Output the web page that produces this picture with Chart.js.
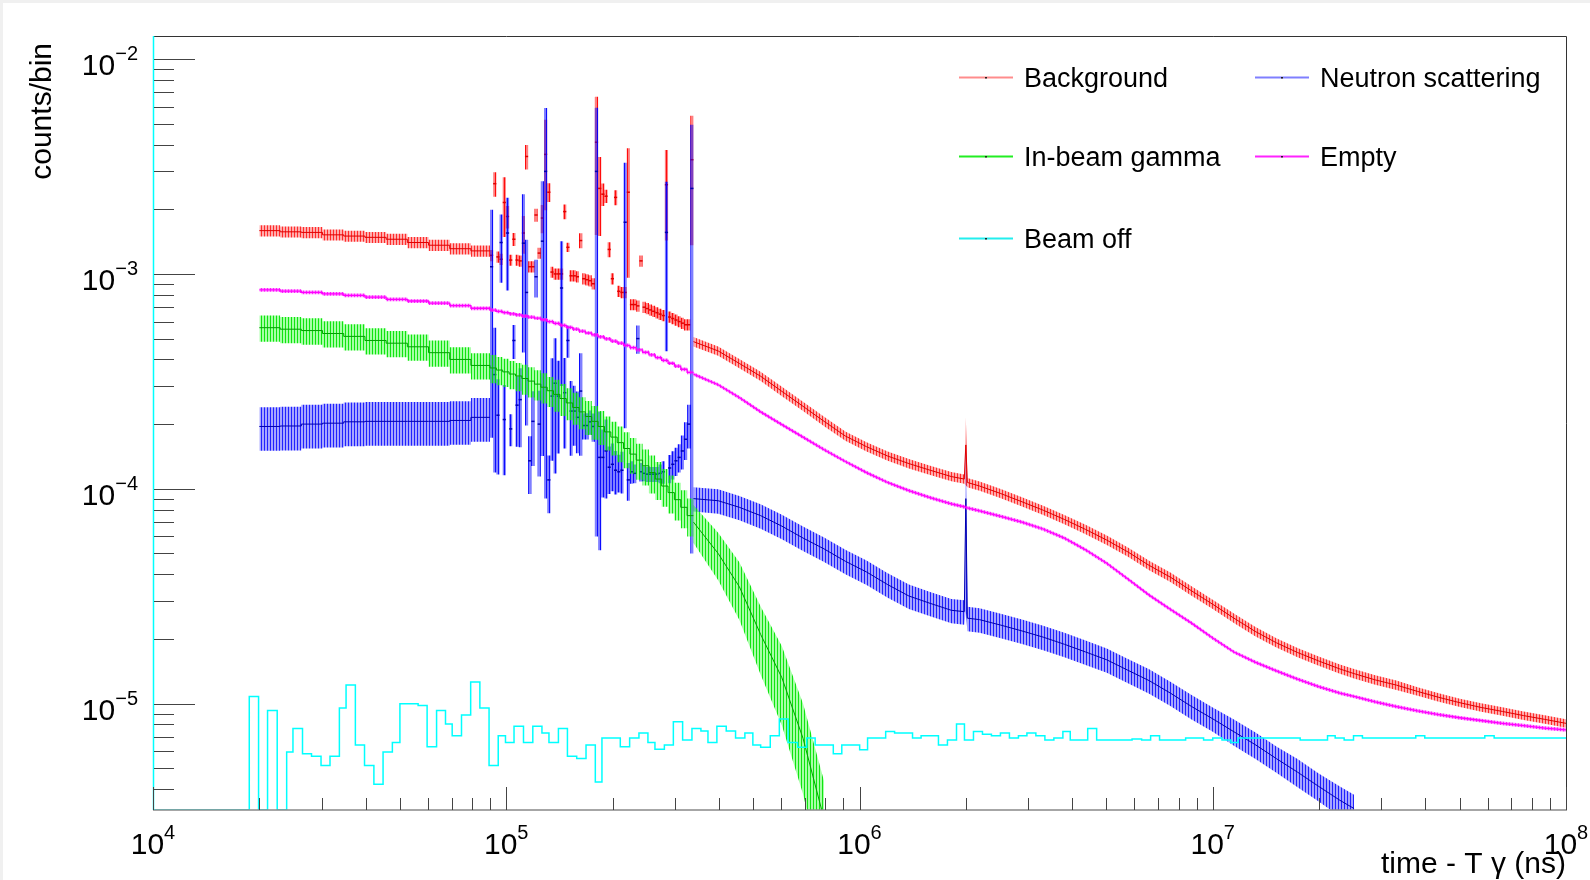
<!DOCTYPE html>
<html>
<head>
<meta charset="utf-8">
<title>counts/bin vs time - T&gamma;</title>
<script src="https://cdn.jsdelivr.net/npm/chart.js@4.4.1/dist/chart.umd.min.js"></script>
<style>
  html, body { margin: 0; padding: 0; background: #fff; }
  canvas { display: block; }
</style>
</head>
<body>
<canvas id="tofChart" width="1590" height="880"></canvas>
<script>
// ---- data (time in ns, content in counts/bin) ----

// bin edges of the early part: 11 coarse bins up to 9e4, then 32 bins up to 3.4e5
const earlyEdges = [2.0e4, 2.291e4, 2.63e4, 3.02e4, 3.467e4, 3.981e4, 4.571e4, 5.248e4, 6.026e4, 6.918e4, 7.943e4, 8.995e4,
  9.376e4, 9.772e4, 1.019e5, 1.062e5, 1.107e5, 1.153e5, 1.202e5, 1.253e5, 1.306e5, 1.361e5,
  1.419e5, 1.479e5, 1.542e5, 1.607e5, 1.675e5, 1.746e5, 1.82e5, 1.897e5, 1.977e5, 2.061e5,
  2.148e5, 2.239e5, 2.333e5, 2.432e5, 2.535e5, 2.642e5, 2.754e5, 2.871e5, 2.992e5, 3.119e5, 3.251e5, 3.388e5];
const coarseBins = 11;

// fine bin edges of the noisy 9e4 - 3.4e5 window (Background and Neutron scattering)
const noisyEdges = [8.995e4, 9.183e4, 9.376e4, 9.572e4, 9.772e4, 9.977e4, 1.019e5, 1.04e5, 1.062e5, 1.084e5,
  1.107e5, 1.13e5, 1.153e5, 1.178e5, 1.202e5, 1.227e5, 1.253e5, 1.279e5, 1.306e5, 1.334e5,
  1.361e5, 1.39e5, 1.419e5, 1.449e5, 1.479e5, 1.51e5, 1.542e5, 1.574e5, 1.607e5, 1.641e5,
  1.675e5, 1.71e5, 1.746e5, 1.782e5, 1.82e5, 1.858e5, 1.897e5, 1.936e5, 1.977e5, 2.018e5,
  2.061e5, 2.104e5, 2.148e5, 2.193e5, 2.239e5, 2.286e5, 2.333e5, 2.382e5, 2.432e5, 2.483e5,
  2.535e5, 2.588e5, 2.642e5, 2.698e5, 2.754e5, 2.812e5, 2.871e5, 2.931e5, 2.992e5, 3.055e5,
  3.119e5, 3.184e5, 3.251e5, 3.319e5, 3.388e5];

// sample times of the smooth late part
const lateTimes = [3.388e5, 3.98e5, 4.57e5, 5.25e5, 6.03e5, 6.92e5, 7.94e5, 9.12e5, 1.047e6, 1.202e6,
  1.38e6, 1.585e6, 1.82e6, 1.98e6, 2.0e6, 2.02e6, 2.188e6, 2.512e6, 2.884e6, 3.311e6,
  3.802e6, 4.365e6, 5.012e6, 5.754e6, 6.607e6, 7.586e6, 8.71e6, 1.0e7, 1.148e7, 1.318e7,
  1.514e7, 1.738e7, 1.995e7, 2.291e7, 2.512e7, 2.884e7, 3.311e7, 3.802e7, 4.365e7, 5.012e7,
  5.754e7, 6.607e7, 7.586e7, 8.71e7, 1.0e8];

// Background
const bkgCoarse = [1.59e-3, 1.57e-3, 1.56e-3, 1.52e-3, 1.5e-3, 1.48e-3, 1.45e-3, 1.4e-3, 1.36e-3, 1.31e-3, 1.28e-3];
const bkgCoarseErr = [0.06, 0.06, 0.06, 0.06, 0.06, 0.06, 0.06, 0.06, 0.06, 0.06, 0.06];
const bkgNoisy = [1.22e-3, 2.63e-3, 1.2e-3, 1.17e-3, 2.15e-3, 1.85e-3, 1.16e-3, 1.45e-3, 1.16e-3, 1.15e-3,
  1.55e-3, 3.52e-3, 1.08e-3, 1.08e-3, 1.88e-3, 1.25e-3, 1.82e-3, 3.6e-3, 2.4e-3, 1.02e-3,
  1.0e-3, 1.0e-3, 1.0e-3, 1.95e-3, 1.33e-3, 0.98e-3, 0.98e-3, 0.97e-3, 1.43e-3, 0.95e-3,
  0.94e-3, 0.93e-3, 0.9e-3, 4.1e-3, 2.5e-3, 2.35e-3, 2.3e-3, 1.3e-3, 0.95e-3, 2.27e-3,
  0.83e-3, 0.82e-3, 0.82e-3, 2.4e-3, 0.72e-3, 0.72e-3, 0.71e-3, 1.15e-3, 0.7e-3, 0.69e-3,
  0.68e-3, 0.67e-3, 0.66e-3, 0.65e-3, 0.64e-3, 2.6e-3, 0.63e-3, 0.62e-3, 0.61e-3, 0.6e-3,
  0.59e-3, 0.58e-3, 0.58e-3, 3.4e-3];
const bkgNoisyErr = [0.06, 0.13, 0.06, 0.06, 0.31, 0.12, 0.06, 0.07, 0.06, 0.06,
  0.2, 0.13, 0.06, 0.06, 0.07, 0.06, 0.15, 0.45, 0.1, 0.06,
  0.06, 0.06, 0.06, 0.08, 0.05, 0.06, 0.06, 0.06, 0.08, 0.06,
  0.06, 0.06, 0.06, 0.63, 0.4, 0.12, 0.07, 0.08, 0.06, 0.08,
  0.06, 0.06, 0.06, 0.6, 0.06, 0.06, 0.06, 0.06, 0.06, 0.06,
  0.06, 0.06, 0.06, 0.06, 0.06, 0.45, 0.06, 0.06, 0.06, 0.06,
  0.06, 0.06, 0.06, 0.6];
const bkgLate = [4.84e-4, 4.38e-4, 3.83e-4, 3.34e-4, 2.84e-4, 2.42e-4, 2.06e-4, 1.76e-4, 1.57e-4, 1.42e-4,
  1.31e-4, 1.22e-4, 1.14e-4, 1.11e-4, 1.6e-4, 1.07e-4, 1.03e-4, 9.5e-5, 8.7e-5, 7.95e-5,
  7.2e-5, 6.47e-5, 5.77e-5, 5.08e-5, 4.4e-5, 3.88e-5, 3.35e-5, 2.9e-5, 2.5e-5, 2.17e-5,
  1.92e-5, 1.73e-5, 1.58e-5, 1.45e-5, 1.38e-5, 1.29e-5, 1.22e-5, 1.14e-5, 1.07e-5, 1.01e-5,
  9.6e-6, 9.2e-6, 8.8e-6, 8.45e-6, 8.1e-6];
const bkgLateErr = [0.05, 0.05, 0.05, 0.05, 0.05, 0.05, 0.05, 0.05, 0.05, 0.05,
  0.05, 0.05, 0.05, 0.05, 0.35, 0.05, 0.05, 0.05, 0.05, 0.05,
  0.05, 0.05, 0.05, 0.05, 0.05, 0.05, 0.05, 0.05, 0.05, 0.05,
  0.05, 0.05, 0.05, 0.05, 0.05, 0.05, 0.05, 0.045, 0.045, 0.045,
  0.045, 0.045, 0.045, 0.045, 0.045];

// Neutron scattering
const neutronCoarse = [1.95e-4, 1.96e-4, 2.0e-4, 2.02e-4, 2.05e-4, 2.06e-4, 2.06e-4, 2.06e-4, 2.06e-4, 2.08e-4, 2.15e-4];
const neutronCoarseErr = [0.23, 0.23, 0.23, 0.23, 0.23, 0.23, 0.23, 0.23, 0.23, 0.23, 0.23];
const neutronNoisy = [1.08e-3, 3.4e-4, 2.2e-4, 1.4e-3, 2.1e-4, 1.55e-3, 1.9e-4, 4.9e-4, 2.45e-4, 2.6e-4,
  1.39e-3, 8.2e-4, 1.35e-4, 2.06e-4, 9.7e-4, 2.0e-4, 1.42e-3, 3.0e-3, 1.1e-4, 2.7e-4,
  3.1e-4, 2.7e-4, 8.6e-4, 2.8e-4, 4.9e-4, 2.3e-4, 2.3e-4, 2.15e-4, 2.85e-4, 1.97e-4,
  1.97e-4, 2.05e-4, 1.95e-4, 3.0e-3, 1.4e-4, 1.4e-4, 1.5e-4, 1.26e-4, 1.3e-4, 1.22e-4,
  1.2e-4, 1.22e-4, 1.74e-3, 1.1e-4, 1.2e-4, 1.18e-4, 5.0e-4, 1.2e-4, 1.18e-4, 1.17e-4,
  1.17e-4, 1.17e-4, 1.17e-4, 1.18e-4, 1.2e-4, 1.56e-3, 1.25e-4, 1.3e-4, 1.35e-4, 1.4e-4,
  1.5e-4, 1.7e-4, 2.0e-4, 2.5e-3];
const neutronNoisyErr = [0.84, 0.65, 0.47, 0.35, 0.45, 0.46, 0.17, 0.18, 0.36, 0.4,
  0.69, 0.76, 0.3, 0.38, 0.2, 0.43, 0.9, 0.97, 0.3, 0.5,
  0.62, 0.46, 0.65, 0.45, 0.17, 0.38, 0.31, 0.32, 0.5, 0.14,
  0.14, 0.13, 0.15, 0.98, 0.63, 0.35, 0.4, 0.25, 0.25, 0.23,
  0.2, 0.22, 0.89, 0.2, 0.12, 0.1, 0.15, 0.1, 0.08, 0.08,
  0.08, 0.08, 0.08, 0.1, 0.12, 0.72, 0.15, 0.15, 0.15, 0.15,
  0.18, 0.2, 0.23, 0.98];
const neutronLate = [9.0e-5, 8.8e-5, 8.2e-5, 7.5e-5, 6.7e-5, 5.9e-5, 5.25e-5, 4.6e-5, 4.1e-5, 3.58e-5,
  3.17e-5, 2.93e-5, 2.72e-5, 2.68e-5, 9.0e-5, 2.5e-5, 2.46e-5, 2.32e-5, 2.18e-5, 2.04e-5,
  1.89e-5, 1.74e-5, 1.6e-5, 1.43e-5, 1.28e-5, 1.12e-5, 9.7e-6, 8.5e-6, 7.4e-6, 6.45e-6,
  5.55e-6, 4.8e-6, 4.12e-6, 3.55e-6, 3.25e-6];
const neutronLateErr = [0.13, 0.13, 0.13, 0.13, 0.13, 0.13, 0.13, 0.13, 0.13, 0.13,
  0.13, 0.13, 0.13, 0.13, 0.7, 0.13, 0.13, 0.13, 0.13, 0.13,
  0.13, 0.13, 0.13, 0.13, 0.13, 0.13, 0.13, 0.13, 0.14, 0.14,
  0.14, 0.15, 0.15, 0.16, 0.16];

// In-beam gamma
const gammaEarly = [5.62e-4, 5.53e-4, 5.45e-4, 5.28e-4, 5.12e-4, 4.9e-4, 4.76e-4, 4.58e-4, 4.3e-4, 4.0e-4, 3.75e-4,
  3.65e-4, 3.57e-4, 3.5e-4, 3.42e-4, 3.35e-4, 3.26e-4, 3.17e-4, 3.07e-4, 2.97e-4, 2.86e-4, 2.75e-4,
  2.63e-4, 2.51e-4, 2.39e-4, 2.28e-4, 2.17e-4, 2.06e-4, 1.95e-4, 1.84e-4, 1.74e-4, 1.64e-4,
  1.54e-4, 1.45e-4, 1.36e-4, 1.28e-4, 1.19e-4, 1.11e-4, 1.03e-4, 0.96e-4, 0.89e-4, 0.82e-4, 0.75e-4];
const gammaEarlyErr = [0.14, 0.14, 0.14, 0.14, 0.14, 0.14, 0.14, 0.14, 0.14, 0.14, 0.14,
  0.15, 0.15, 0.15, 0.15, 0.15, 0.16, 0.16, 0.16, 0.16, 0.16, 0.17,
  0.17, 0.17, 0.17, 0.17, 0.18, 0.18, 0.18, 0.18, 0.18, 0.19,
  0.19, 0.19, 0.19, 0.19, 0.2, 0.2, 0.2, 0.2, 0.2, 0.2, 0.2];
const gammaLate = [7.0e-5, 5.0e-5, 3.5e-5, 2.1e-5, 1.32e-5, 6.9e-6, 2.9e-6];
const gammaLateErr = [0.2, 0.25, 0.3, 0.35, 0.4, 0.45, 0.5];

// Empty
const emptyEarly = [8.42e-4, 8.32e-4, 8.2e-4, 8.08e-4, 7.95e-4, 7.8e-4, 7.62e-4, 7.48e-4, 7.32e-4, 7.12e-4, 6.92e-4,
  6.78e-4, 6.7e-4, 6.6e-4, 6.52e-4, 6.45e-4, 6.37e-4, 6.3e-4, 6.22e-4, 6.12e-4, 6.0e-4, 5.88e-4,
  5.76e-4, 5.64e-4, 5.53e-4, 5.42e-4, 5.31e-4, 5.2e-4, 5.09e-4, 4.98e-4, 4.87e-4, 4.76e-4,
  4.65e-4, 4.54e-4, 4.43e-4, 4.32e-4, 4.2e-4, 4.08e-4, 3.96e-4, 3.84e-4, 3.72e-4, 3.6e-4, 3.48e-4];
const emptyLate = [3.42e-4, 3.05e-4, 2.66e-4, 2.28e-4, 1.99e-4, 1.74e-4, 1.52e-4, 1.34e-4, 1.19e-4, 1.07e-4,
  9.8e-5, 9.1e-5, 8.5e-5, 8.25e-5, 8.2e-5, 8.15e-5, 7.9e-5, 7.45e-5, 7.0e-5, 6.5e-5,
  5.9e-5, 5.2e-5, 4.5e-5, 3.8e-5, 3.2e-5, 2.75e-5, 2.37e-5, 2.02e-5, 1.74e-5, 1.56e-5,
  1.42e-5, 1.3e-5, 1.2e-5, 1.12e-5, 1.08e-5, 1.02e-5, 9.7e-6, 9.25e-6, 8.9e-6, 8.6e-6,
  8.35e-6, 8.1e-6, 7.9e-6, 7.7e-6, 7.55e-6];
const emptyRelErr = 0.02;

// Beam off (plain histogram, 0 = empty bin)
const beamOffEdges = [1e4, 1.873e4, 1.99e4, 2.11e4, 2.247e4, 2.39e4, 2.49e4, 2.65e4, 2.81e4, 2.99e4,
  3.17e4, 3.37e4, 3.52e4, 3.74e4, 3.97e4, 4.22e4, 4.48e4, 4.76e4, 5.0e4, 5.63e4,
  5.97e4, 6.35e4, 6.73e4, 7.03e4, 7.47e4, 7.93e4, 8.42e4, 8.94e4, 9.49e4, 9.95e4,
  1.052e5, 1.119e5, 1.189e5, 1.262e5, 1.321e5, 1.405e5, 1.49e5, 1.583e5, 1.682e5, 1.787e5,
  1.866e5, 2.103e5, 2.235e5, 2.375e5, 2.518e5, 2.636e5, 2.803e5, 2.972e5, 3.157e5, 3.355e5,
  3.557e5, 3.724e5, 3.947e5, 4.195e5, 4.458e5, 4.737e5, 4.99e5, 5.25e5, 5.59e5, 5.93e5,
  6.28e5, 6.68e5, 7.09e5, 7.49e5, 8.43e5, 8.91e5, 1.001e6, 1.054e6, 1.186e6, 1.257e6,
  1.413e6, 1.494e6, 1.673e6, 1.774e6, 1.882e6, 1.982e6, 2.102e6, 2.229e6, 2.363e6, 2.506e6,
  2.657e6, 2.818e6, 2.978e6, 3.157e6, 3.348e6, 3.55e6, 3.765e6, 3.95e6, 4.426e6, 4.692e6,
  5.91e6, 6.29e6, 6.67e6, 7.07e6, 8.38e6, 9.42e6, 1.0e7, 1.062e7, 1.126e7, 1.18e7,
  1.768e7, 2.113e7, 2.221e7, 2.355e7, 2.503e7, 2.653e7, 3.756e7, 3.983e7, 5.89e7, 6.26e7, 1.0e8];
const beamOffCounts = [0, 1.08e-5, 0, 9.3e-6, 0, 5.96e-6, 7.66e-6, 5.84e-6, 5.69e-6, 5.15e-6,
  5.69e-6, 9.54e-6, 1.22e-5, 6.43e-6, 5.15e-6, 4.22e-6, 5.96e-6, 6.6e-6, 1.0e-5, 9.8e-6,
  6.3e-6, 9.3e-6, 8.05e-6, 7.1e-6, 8.85e-6, 1.26e-5, 9.54e-6, 5.15e-6, 7.1e-6, 6.6e-6,
  7.85e-6, 6.6e-6, 7.85e-6, 7.31e-6, 6.6e-6, 7.66e-6, 5.69e-6, 5.55e-6, 6.43e-6, 4.32e-6,
  6.92e-6, 6.3e-6, 6.92e-6, 7.31e-6, 6.6e-6, 6.14e-6, 6.43e-6, 8.24e-6, 6.77e-6, 7.66e-6,
  7.46e-6, 6.6e-6, 7.85e-6, 7.46e-6, 6.92e-6, 7.31e-6, 6.43e-6, 6.27e-6, 7.1e-6, 8.49e-6,
  6.6e-6, 6.27e-6, 6.92e-6, 6.43e-6, 5.85e-6, 6.43e-6, 6.11e-6, 6.92e-6, 7.43e-6, 7.31e-6,
  6.92e-6, 7.1e-6, 6.43e-6, 6.77e-6, 8.05e-6, 6.77e-6, 7.43e-6, 7.2e-6, 7.1e-6, 7.31e-6,
  6.92e-6, 7.1e-6, 7.31e-6, 7.1e-6, 6.77e-6, 6.92e-6, 7.43e-6, 6.77e-6, 7.66e-6, 6.77e-6,
  6.85e-6, 6.77e-6, 7.1e-6, 6.77e-6, 6.92e-6, 6.77e-6, 6.92e-6, 6.77e-6, 6.6e-6, 6.92e-6,
  6.77e-6, 7.1e-6, 6.92e-6, 6.77e-6, 7.1e-6, 6.92e-6, 7.1e-6, 6.92e-6, 7.1e-6, 6.92e-6];

const seriesNames = ['Background', 'Neutron scattering', 'In-beam gamma', 'Empty', 'Beam off'];
const xDecades = [4, 5, 6, 7, 8];
const yDecades = [-2, -3, -4, -5];
const xRange = [1e4, 1e8];
const yRange = [3.2e-6, 1.28e-2];
const xTitle = 'time - T \u03b3 (ns)';
const yTitle = 'counts/bin';

// ---- drawing helpers ----
const canvas = document.getElementById('tofChart');
const ctx = canvas.getContext('2d');
const FONT = '"Liberation Sans", Arial, Helvetica, sans-serif';

function stripes(dark, light) {
    const c = document.createElement('canvas');
    c.width = 3;
    c.height = 1;
    const g = c.getContext('2d');
    g.fillStyle = light;
    g.fillRect(0, 0, 3, 1);
    g.fillStyle = dark;
    g.fillRect(0, 0, 1, 1);
    return ctx.createPattern(c, 'repeat');
}

const styles = {
    bkg: {
        band: stripes('rgba(255,0,0,0.75)', 'rgba(255,0,0,0.32)'),
        noisy: stripes('rgba(255,0,0,0.9)', 'rgba(255,0,0,0.5)'),
        line: '#e00000', key: 'rgba(255,0,0,0.45)'
    },
    neutron: {
        band: stripes('rgba(0,0,255,0.8)', 'rgba(0,0,255,0.35)'),
        noisy: stripes('rgba(0,0,255,0.9)', 'rgba(0,0,255,0.5)'),
        line: '#0000b0', key: 'rgba(0,0,255,0.5)'
    },
    gamma: { band: stripes('rgba(0,225,0,0.9)', 'rgba(0,255,0,0.35)'), line: '#00a000', key: '#22ee22' },
    empty: { band: stripes('rgba(255,0,255,0.8)', 'rgba(255,0,255,0.4)'), line: '#ff00ff', key: '#ff22ff' },
    beamOff: { line: '#00ffff', key: '#22eeee' }
};

// histogram: N+1 edges, N contents -> step points closed at the last edge
// an empty bin sits on the bottom of the frame, as ROOT draws it on a log axis
function histPoints(edges, vals) {
    const y = v => (v > 0 ? v : yRange[0]);
    const pts = vals.map((v, i) => ({ x: edges[i], y: y(v) }));
    pts.push({ x: edges[vals.length], y: y(vals[vals.length - 1]) });
    return pts;
}

function relErr(errs, i) {
    return Array.isArray(errs) ? errs[i] : errs;
}

// hatched fill between v-err and v+err (stepped per bin, or joined samples)
function addErrorFill(list, xs, vals, errs, fillStyle, binned) {
    const mk = arr => binned ? histPoints(xs, arr) : arr.map((v, i) => ({ x: xs[i], y: v }));
    const lo = vals.map((v, i) => Math.max(v * (1 - relErr(errs, i)), 1e-9));
    const hi = vals.map((v, i) => v * (1 + relErr(errs, i)));
    const stepped = binned ? 'before' : false;
    list.push({ data: mk(lo), borderColor: 'rgba(0,0,0,0)', borderWidth: 1, fill: false, stepped });
    list.push({ data: mk(hi), borderColor: 'rgba(0,0,0,0)', borderWidth: 1, fill: '-1', backgroundColor: fillStyle, stepped });
}

// error band plus the central line
function addBand(list, xs, vals, errs, style, binned) {
    addErrorFill(list, xs, vals, errs, style.band, binned);
    list.push({
        data: binned ? histPoints(xs, vals) : vals.map((v, i) => ({ x: xs[i], y: v })),
        borderColor: style.line,
        borderWidth: style === styles.empty ? 1.3 : 1,
        fill: false,
        stepped: binned ? 'before' : false
    });
}

// noisy bins: one hatched column per bin, with a short mark at the bin content
function addNoisyBins(list, edges, vals, errs, style) {
    addErrorFill(list, edges, vals, errs, style.noisy, true);
    list.push({
        data: vals.map((v, i) => ({ x: Math.sqrt(edges[i] * edges[i + 1]), y: v })),
        showLine: false,
        pointStyle: 'line',
        pointRadius: 1.6,
        pointBorderWidth: 1.5,
        pointBorderColor: style.line
    });
}

const n = coarseBins;
const datasets = [];
addBand(datasets, earlyEdges.slice(0, n + 1), bkgCoarse, bkgCoarseErr, styles.bkg, true);
addNoisyBins(datasets, noisyEdges, bkgNoisy, bkgNoisyErr, styles.bkg);
addBand(datasets, lateTimes, bkgLate, bkgLateErr, styles.bkg, false);
addBand(datasets, earlyEdges.slice(0, n + 1), neutronCoarse, neutronCoarseErr, styles.neutron, true);
addNoisyBins(datasets, noisyEdges, neutronNoisy, neutronNoisyErr, styles.neutron);
addBand(datasets, lateTimes, neutronLate, neutronLateErr, styles.neutron, false);
addBand(datasets, earlyEdges, gammaEarly, gammaEarlyErr, styles.gamma, true);
addBand(datasets, lateTimes, gammaLate, gammaLateErr, styles.gamma, false);
addBand(datasets, earlyEdges, emptyEarly, emptyRelErr, styles.empty, true);
addBand(datasets, lateTimes, emptyLate, emptyRelErr, styles.empty, false);
datasets.push({
    data: histPoints(beamOffEdges, beamOffCounts),
    borderColor: styles.beamOff.line,
    borderWidth: 1.5,
    fill: false,
    stepped: 'before'
});
// draw in list order, later series on top (as the histograms were overlaid)
datasets.forEach((d, i) => { d.order = datasets.length - i; });

function powerLabel(c, exp, x, baseY, align) {
    const base = '10';
    const sup = String(exp).replace('-', '\u2212');
    c.font = '30px ' + FONT;
    const wb = c.measureText(base).width;
    c.font = '20px ' + FONT;
    const ws = c.measureText(sup).width;
    const x0 = align === 'right' ? x - wb - ws : x - (wb + ws) / 2;
    c.textAlign = 'left';
    c.textBaseline = 'alphabetic';
    c.font = '30px ' + FONT;
    c.fillText(base, x0, baseY);
    c.font = '20px ' + FONT;
    c.fillText(sup, x0 + wb, baseY - 15);
}

const rootFrame = {
    id: 'rootFrame',
    beforeDraw(chart) {
        const c = chart.ctx;
        c.save();
        c.fillStyle = '#ffffff';
        c.fillRect(0, 0, chart.width, chart.height);
        c.fillStyle = '#f0f0f0';
        c.fillRect(0, 0, chart.width, 3);
        c.fillRect(0, 0, 3, chart.height);
        c.restore();
    },
    afterDatasetsDraw(chart) {
        const c = chart.ctx;
        const a = chart.chartArea;
        const { x, y } = chart.scales;
        c.save();

        // frame
        c.lineWidth = 1;
        c.strokeStyle = '#333';
        c.beginPath();
        c.moveTo(a.left, a.top + 0.5);
        c.lineTo(a.right + 0.5, a.top + 0.5);
        c.lineTo(a.right + 0.5, a.bottom);
        c.stroke();
        c.strokeStyle = '#888';
        c.lineWidth = 1.5;
        c.beginPath();
        c.moveTo(a.left, a.bottom);
        c.lineTo(a.right + 1, a.bottom);
        c.stroke();
        c.strokeStyle = '#00ffff';
        c.beginPath();
        c.moveTo(a.left + 0.5, a.top);
        c.lineTo(a.left + 0.5, a.bottom);
        c.stroke();

        // ticks, pointing into the frame
        c.lineWidth = 1;
        c.strokeStyle = '#444';
        c.beginPath();
        const yLow = Math.floor(Math.log10(y.min));
        for (let d = yLow; d <= yDecades[0]; d++) {
            for (let m = 1; m <= 9; m++) {
                const v = m * Math.pow(10, d);
                if (v < y.min || v > y.max) continue;
                const py = Math.round(y.getPixelForValue(v)) + 0.5;
                c.moveTo(a.left + 1, py);
                c.lineTo(a.left + (m === 1 ? 42 : 21), py);
            }
        }
        for (let d = xDecades[0]; d <= xDecades[xDecades.length - 1]; d++) {
            for (let m = 1; m <= 9; m++) {
                const v = m * Math.pow(10, d);
                if (v < x.min || v > x.max) continue;
                const px = Math.round(x.getPixelForValue(v)) + 0.5;
                c.moveTo(px, a.bottom);
                c.lineTo(px, a.bottom - (m === 1 ? 23 : 12));
            }
        }
        c.stroke();

        // tick labels
        c.fillStyle = '#000';
        yDecades.forEach(d => powerLabel(c, d, 138, y.getPixelForValue(Math.pow(10, d)) + 16, 'right'));
        xDecades.forEach(d => powerLabel(c, d, x.getPixelForValue(Math.pow(10, d)), 854, 'center'));

        // axis titles
        c.font = '30px ' + FONT;
        c.textBaseline = 'alphabetic';
        c.textAlign = 'right';
        c.fillText(xTitle, a.right, 873);
        c.save();
        c.translate(51, 43);
        c.rotate(-Math.PI / 2);
        c.fillText(yTitle, 0, 0);
        c.restore();

        c.restore();
    },
    afterDraw(chart) {
        const c = chart.ctx;
        const keys = [styles.bkg, styles.neutron, styles.gamma, styles.empty, styles.beamOff];
        const slots = [[959, 77], [1255, 77], [959, 156], [1255, 156], [959, 238]];
        c.save();
        c.font = '27px ' + FONT;
        c.textAlign = 'left';
        c.textBaseline = 'alphabetic';
        seriesNames.forEach((name, i) => {
            const [lx, ly] = slots[i];
            c.strokeStyle = keys[i].key;
            c.lineWidth = 2;
            c.beginPath();
            c.moveTo(lx, ly + 0.5);
            c.lineTo(lx + 54, ly + 0.5);
            c.stroke();
            c.fillStyle = '#222';
            c.fillRect(lx + 26, ly, 2, 1.5);
            c.fillStyle = '#000';
            c.fillText(name, lx + 65, ly + 10);
        });
        c.restore();
    }
};

new Chart(ctx, {
    type: 'line',
    data: { datasets },
    options: {
        responsive: false,
        animation: false,
        layout: { padding: { left: 153, right: 24, top: 36, bottom: 70 } },
        elements: { point: { radius: 0 }, line: { tension: 0 } },
        scales: {
            x: { type: 'logarithmic', min: xRange[0], max: xRange[1], display: false },
            y: { type: 'logarithmic', min: yRange[0], max: yRange[1], display: false }
        },
        plugins: {
            legend: { display: false },
            tooltip: { enabled: false }
        }
    },
    plugins: [rootFrame]
});
</script>
</body>
</html>
